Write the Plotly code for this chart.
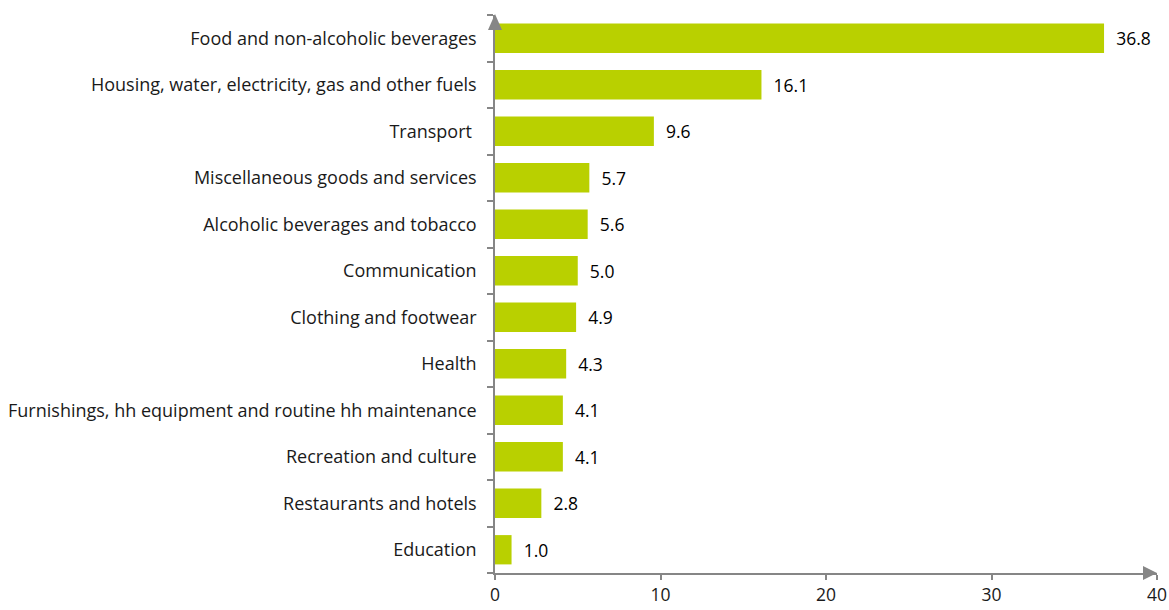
import plotly.graph_objects as go

categories = [
    "Food and non-alcoholic beverages",
    "Housing, water, electricity, gas and other fuels",
    "Transport ",
    "Miscellaneous goods and services",
    "Alcoholic beverages and tobacco",
    "Communication",
    "Clothing and footwear",
    "Health",
    "Furnishings, hh equipment and routine hh maintenance",
    "Recreation and culture",
    "Restaurants and hotels",
    "Education",
]
values = [36.8, 16.1, 9.6, 5.7, 5.6, 5.0, 4.9, 4.3, 4.1, 4.1, 2.8, 1.0]
x_ticks = [0, 10, 20, 30, 40]

BAR = "#b9d000"
AX = "#868686"
FONT = "'Open Sans', sans-serif"

fig = go.Figure(go.Bar(
    x=values[::-1],
    y=categories[::-1],
    orientation="h",
    marker=dict(color=BAR, line=dict(width=0)),
    text=["\u00a0\u00a0" + f"{v:.1f}" for v in values[::-1]],
    textposition="outside",
    textfont=dict(size=17.5, color="#000000", family=FONT),
    cliponaxis=False,
    width=0.63,
))

fig.update_layout(
    width=1169, height=610,
    margin=dict(l=495, r=12, t=15, b=37),
    plot_bgcolor="white", paper_bgcolor="white",
    showlegend=False,
    font=dict(family=FONT, size=17.5, color="#1a1a1a"),
)
fig.update_xaxes(
    range=[0, 40], tickvals=x_ticks, ticktext=[str(t) for t in x_ticks],
    showgrid=False, zeroline=False, showline=True, linecolor=AX, linewidth=1.5,
    ticks="outside", ticklen=5, tickcolor=AX, tickwidth=1.5,
    tickfont=dict(size=17.5, color="#1a1a1a"), automargin=False,
)
fig.update_yaxes(
    type="category", range=[-0.5, 11.5],
    showgrid=False, zeroline=False, showline=True, linecolor=AX, linewidth=1.5,
    ticks="outside", ticklen=6, tickcolor=AX, tickwidth=1.5, tickson="boundaries",
    ticklabelstandoff=13, automargin=False,
    tickfont=dict(size=18, color="#1a1a1a"),
)
# arrowheads at axis ends
fig.add_shape(type="path", xref="paper", yref="paper", xsizemode="pixel", ysizemode="pixel",
              xanchor=1, yanchor=0, path="M -14 -7 L 0 0 L -14 7 Z",
              fillcolor=AX, line=dict(width=0))
fig.add_shape(type="path", xref="paper", yref="paper", xsizemode="pixel", ysizemode="pixel",
              xanchor=0, yanchor=1, path="M -7 -15 L 0 1 L 7 -15 Z",
              fillcolor=AX, line=dict(width=0))

fig.write_html("out.html", config={"displayModeBar": False},
               post_script="document.body.style.margin='0';document.body.style.overflow='hidden';")
